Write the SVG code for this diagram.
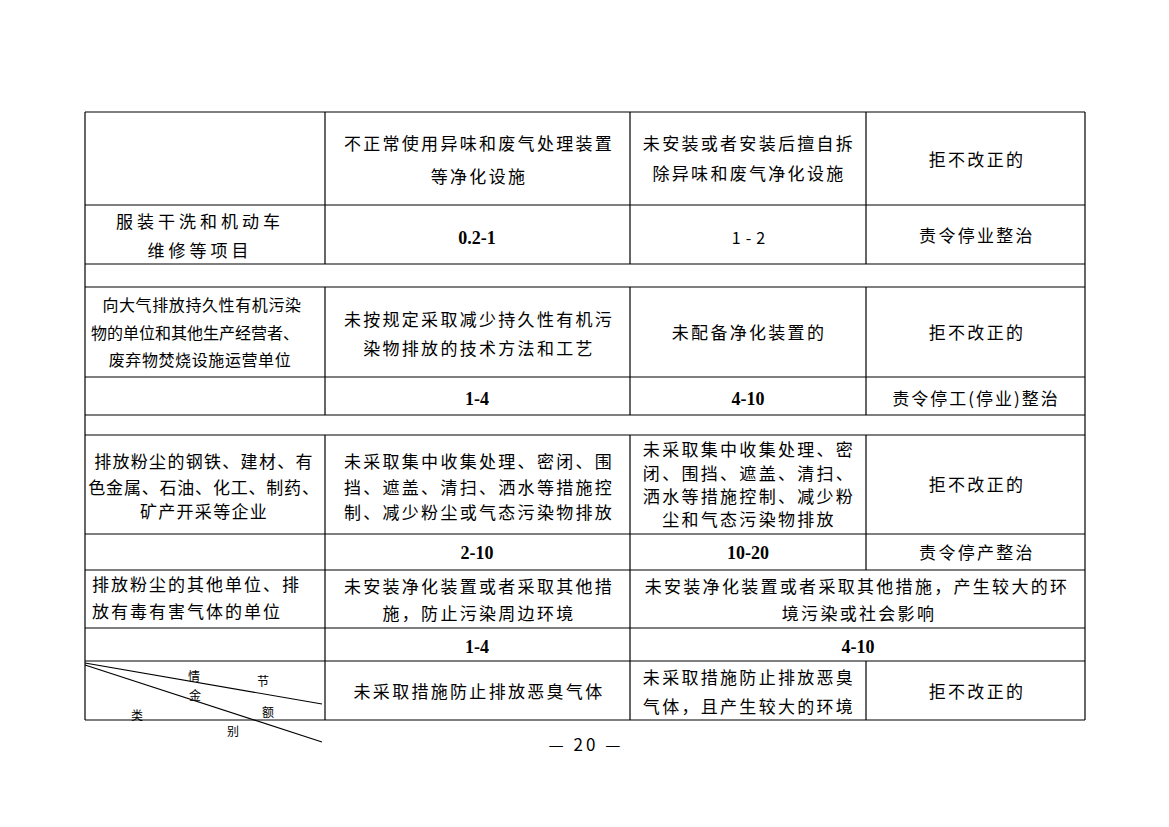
<svg xmlns="http://www.w3.org/2000/svg" width="1169" height="827" viewBox="0 0 1169 827">
<style>
.c{font-family:"Noto Sans CJK SC","Liberation Sans",sans-serif;font-size:17px;fill:#000;text-anchor:middle;letter-spacing:2.3px}
.l{font-family:"Noto Sans CJK SC","Liberation Sans",sans-serif;font-size:17px;fill:#000;letter-spacing:2px}
.s{font-family:"Noto Sans CJK SC","Liberation Sans",sans-serif;font-size:12px;fill:#000;text-anchor:middle}
.n{font-family:"Liberation Serif",serif;font-weight:bold;font-size:18px;fill:#000;text-anchor:middle}
.g line{stroke:#000;stroke-width:1.2}
</style>
<rect width="1169" height="827" fill="#fff"/>
<g id="grid" class="g">
<line x1="85" y1="112" x2="1085" y2="112"/>
<line x1="85" y1="205" x2="1085" y2="205"/>
<line x1="85" y1="264" x2="1085" y2="264"/>
<line x1="85" y1="287" x2="1085" y2="287"/>
<line x1="85" y1="377" x2="1085" y2="377"/>
<line x1="85" y1="415" x2="1085" y2="415"/>
<line x1="85" y1="435" x2="1085" y2="435"/>
<line x1="85" y1="534" x2="1085" y2="534"/>
<line x1="85" y1="570" x2="1085" y2="570"/>
<line x1="85" y1="628" x2="1085" y2="628"/>
<line x1="85" y1="661" x2="1085" y2="661"/>
<line x1="85" y1="720" x2="1085" y2="720"/>
<line x1="85" y1="112" x2="85" y2="720"/>
<line x1="1085" y1="112" x2="1085" y2="720"/>
<line x1="325" y1="112" x2="325" y2="264"/>
<line x1="325" y1="287" x2="325" y2="415"/>
<line x1="325" y1="435" x2="325" y2="720"/>
<line x1="630" y1="112" x2="630" y2="264"/>
<line x1="630" y1="287" x2="630" y2="415"/>
<line x1="630" y1="435" x2="630" y2="720"/>
<line x1="866" y1="112" x2="866" y2="264"/>
<line x1="866" y1="287" x2="866" y2="415"/>
<line x1="866" y1="435" x2="866" y2="570"/>
<line x1="866" y1="661" x2="866" y2="720"/>
<line x1="85" y1="663" x2="322" y2="704"/>
<line x1="85" y1="665" x2="322" y2="742"/>
</g>
<g id="row1">
<text class="c" x="479" y="150">不正常使用异味和废气处理装置</text>
<text class="c" x="479" y="183">等净化设施</text>
<text class="c" x="749" y="150">未安装或者安装后擅自拆</text>
<text class="c" x="749" y="180">除异味和废气净化设施</text>
<text class="c" x="977" y="166">拒不改正的</text>
</g>
<g id="row2">
<text class="c" x="200" y="228" style="letter-spacing:4px">服装干洗和机动车</text>
<text class="c" x="200" y="257" style="letter-spacing:4px">维修等项目</text>
<text class="n" x="477" y="244">0.2-1</text>
<text class="c" x="751" y="244" style="font-size:16px;letter-spacing:5px">1-2</text>
<text class="c" x="977" y="242">责令停业整治</text>
</g>
<g id="row3">
<text class="c" x="202" y="311" style="font-size:16px;letter-spacing:0.6px">向大气排放持久性有机污染</text>
<text class="c" x="195" y="339" style="font-size:16px;letter-spacing:0px">物的单位和其他生产经营者、</text>
<text class="c" x="200" y="366" style="font-size:16px;letter-spacing:0.6px">废弃物焚烧设施运营单位</text>
<text class="c" x="479" y="326">未按规定采取减少持久性有机污</text>
<text class="c" x="479" y="355">染物排放的技术方法和工艺</text>
<text class="c" x="749" y="339">未配备净化装置的</text>
<text class="c" x="977" y="339">拒不改正的</text>
</g>
<g id="row4">
<text class="n" x="477" y="405">1-4</text>
<text class="n" x="748" y="405">4-10</text>
<text class="c" x="976" y="405" style="letter-spacing:2px">责令停工(停业)整治</text>
</g>
<g id="row5">
<text class="c" x="204" y="468" style="letter-spacing:1.3px">排放粉尘的钢铁、建材、有</text>
<text class="c" x="204" y="494" style="letter-spacing:0.8px">色金属、石油、化工、制药、</text>
<text class="c" x="204" y="518" style="letter-spacing:1.3px">矿产开采等企业</text>
<text class="c" x="479" y="468">未采取集中收集处理、密闭、围</text>
<text class="c" x="479" y="494">挡、遮盖、清扫、洒水等措施控</text>
<text class="c" x="479" y="519">制、减少粉尘或气态污染物排放</text>
<text class="c" x="749" y="456">未采取集中收集处理、密</text>
<text class="c" x="749" y="480">闭、围挡、遮盖、清扫、</text>
<text class="c" x="749" y="503">洒水等措施控制、减少粉</text>
<text class="c" x="749" y="526">尘和气态污染物排放</text>
<text class="c" x="977" y="491">拒不改正的</text>
</g>
<g id="row6">
<text class="n" x="477" y="559">2-10</text>
<text class="n" x="748" y="559">10-20</text>
<text class="c" x="977" y="559">责令停产整治</text>
</g>
<g id="row7">
<text class="l" x="92" y="591">排放粉尘的其他单位、排</text>
<text class="l" x="92" y="618">放有毒有害气体的单位</text>
<text class="c" x="479" y="593">未安装净化装置或者采取其他措</text>
<text class="c" x="479" y="620">施，防止污染周边环境</text>
<text class="c" x="857" y="593">未安装净化装置或者采取其他措施，产生较大的环</text>
<text class="c" x="859" y="620">境污染或社会影响</text>
</g>
<g id="row8">
<text class="n" x="477" y="653">1-4</text>
<text class="n" x="858" y="653">4-10</text>
</g>
<g id="row9">
<text class="s" x="194" y="681">情</text>
<text class="s" x="263" y="686">节</text>
<text class="s" x="195" y="700">金</text>
<text class="s" x="268" y="717">额</text>
<text class="s" x="137" y="720">类</text>
<text class="s" x="233" y="736">别</text>
<text class="c" x="479" y="698">未采取措施防止排放恶臭气体</text>
<text class="c" x="749" y="684">未采取措施防止排放恶臭</text>
<text class="c" x="749" y="713">气体，且产生较大的环境</text>
<text class="c" x="977" y="698">拒不改正的</text>
</g>
<g id="page">
<text x="586" y="751" style="font-family:'Noto Sans CJK SC','Liberation Sans',sans-serif;font-size:17px;text-anchor:middle;letter-spacing:3px">— 20 —</text>
</g>
</svg>
